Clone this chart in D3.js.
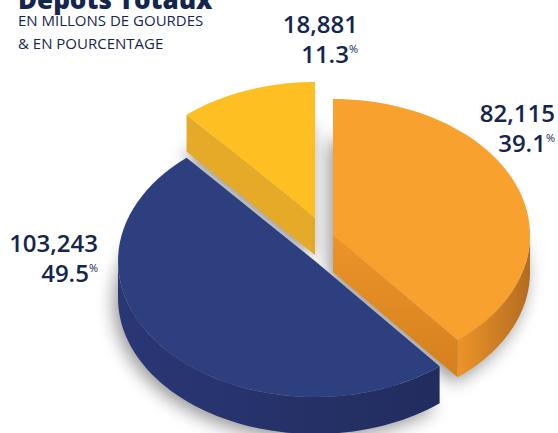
<!DOCTYPE html>
<html><head><meta charset="utf-8">
<script src="https://cdn.jsdelivr.net/npm/d3@7"></script>
<style>html,body{margin:0;padding:0;background:#fff;overflow:hidden}svg{display:block}
text{font-family:"Open Sans",sans-serif;fill:#14264f}</style></head><body>
<svg id="c" width="558" height="433"></svg>
<script>
const categories=["Orange","Bleu","Jaune"];
const seriesValues=[39.1,49.6,11.3];
const amounts=["82,115","103,243","18,881"];
const percents=["39.1","49.5","11.3"];
const topColors=["#f8a12e","#2d3f7f","#fdbf22"];
const wallColors=["#ec9428","#2a3775","#e5aa28"];
const wallEndColors=["#b36c20","#222c5e","#e5aa28"];
const offsets=[[333,235],[315,261],[315,218]];
const labelX=[555,98,358];
const labelY=[122,252,33];
const drawOrder=[2,0,1];
const W=558,H=433,RX=197,RY=136,DEPTH=37;
const svg=d3.select("#c");
const defs=svg.append("defs");
const blur=defs.append("filter").attr("id","sh").attr("x","-30%").attr("y","-30%").attr("width","160%").attr("height","160%");
blur.append("feGaussianBlur").attr("stdDeviation",9);
const pie=d3.pie().sort(null).startAngle(0).endAngle(2*Math.PI);
const arcs=pie(seriesValues);
const ex=d3.scaleLinear().domain([0,1]).range([0,RX]);
const ey=d3.scaleLinear().domain([0,1]).range([0,RY]);
const pt=(c,a)=>[c[0]+ex(Math.sin(a)),c[1]-ey(Math.cos(a))];
function sector(c,a0,a1){
  const pts=[c].concat(d3.range(0,61).map(i=>pt(c,a0+(a1-a0)*i/60)));
  return d3.line()(pts)+"Z";
}
function wall(c,a0,a1){
  const up=d3.range(0,61).map(i=>pt(c,a0+(a1-a0)*i/60));
  const down=up.slice().reverse().map(p=>[p[0],p[1]+DEPTH]);
  return d3.line()(up.concat(down))+"Z";
}
function cut(c,a){
  const e=pt(c,a);
  return d3.line()([c,e,[e[0],e[1]+DEPTH],[c[0],c[1]+DEPTH]])+"Z";
}
drawOrder.forEach(i=>{
  const d=arcs[i],c=offsets[i],g=svg.append("g");
  const base=[c[0],c[1]+DEPTH];
  g.append("path").attr("d",sector([base[0]-4,base[1]+5],d.startAngle,d.endAngle))
    .attr("fill","#000").attr("opacity",.42).attr("filter","url(#sh)");
  const a0=Math.max(d.startAngle,Math.PI/2),a1=Math.min(d.endAngle,1.5*Math.PI);
  if(i===0) {
    const g2=defs.append("linearGradient").attr("id","cut0").attr("x1","0").attr("x2","0").attr("y1","0").attr("y2","1");
    g2.append("stop").attr("offset",0).attr("stop-color",wallColors[0]);
    g2.append("stop").attr("offset",1).attr("stop-color","#d5801f");
    g.append("path").attr("d",cut(c,d.endAngle)).attr("fill","url(#cut0)");
  }
  if(i===2) g.append("path").attr("d",cut(c,d.startAngle)).attr("fill",wallColors[i]);
  if(a1>a0){
    const grad=defs.append("linearGradient").attr("id","w"+i).attr("x1","0").attr("x2","1").attr("y1","0").attr("y2","0");
    grad.append("stop").attr("offset",0).attr("stop-color",i===0?wallColors[i]:wallColors[i]);
    grad.append("stop").attr("offset",1).attr("stop-color",wallEndColors[i]);
    g.append("path").attr("d",wall(c,a0,a1)).attr("fill","url(#w"+i+")");
  }
  g.append("path").attr("d",sector(c,d.startAngle,d.endAngle)).attr("fill",topColors[i]);
});
svg.append("text").attr("x",18).attr("y",9).attr("font-size",26).attr("font-weight",800).text("Dépôts Totaux");
svg.append("text").attr("x",18).attr("y",26).attr("font-size",15).text("EN MILLONS DE GOURDES");
svg.append("text").attr("x",18).attr("y",49).attr("font-size",15).text("& EN POURCENTAGE");
categories.forEach((n,i)=>{
  const g=svg.append("g").attr("text-anchor","end");
  g.append("text").attr("x",labelX[i]).attr("y",labelY[i]).attr("font-size",24).attr("font-weight",600).text(amounts[i]);
  const t=g.append("text").attr("x",labelX[i]).attr("y",labelY[i]+30).attr("font-size",24).attr("font-weight",600);
  t.append("tspan").text(percents[i]);
  t.append("tspan").attr("font-size",11).attr("dy",-10).attr("font-weight",400).text("%");
});
</script></body></html>
